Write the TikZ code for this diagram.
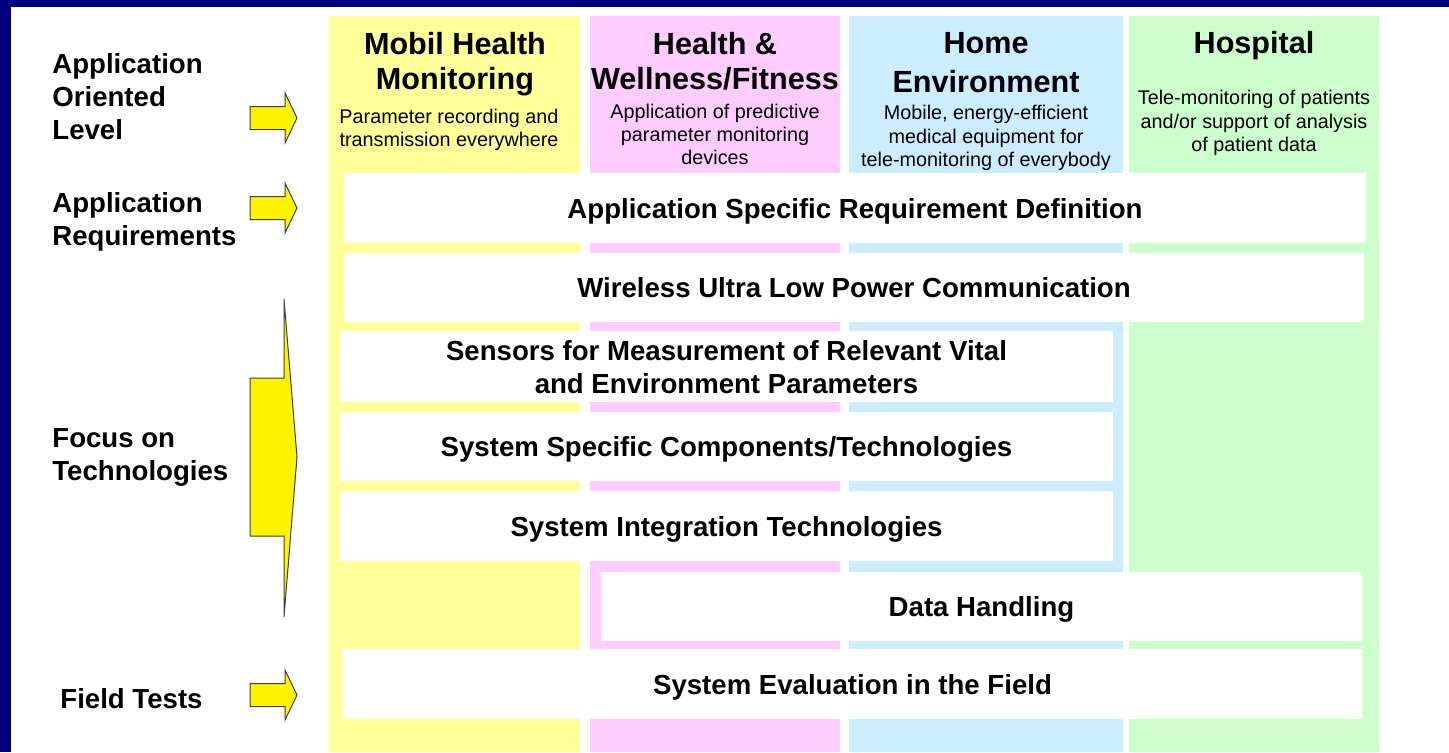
\documentclass[tikz,border=0pt]{standalone}
\usepackage{fontspec}
\setmainfont{Liberation Sans}
\usetikzlibrary{positioning}
\definecolor{navy}{HTML}{000080}
\definecolor{colyellow}{HTML}{FFFF99}
\definecolor{colpink}{HTML}{FFCCFF}
\definecolor{colblue}{HTML}{CCECFF}
\definecolor{colgreen}{HTML}{CCFFCC}
\newcommand{\levelarrow}[1]{%
  \draw[arrowshape] (250,#1-11.5) -- (285,#1-11.5) -- (285,#1-25) -- (297,#1)
    -- (285,#1+25) -- (285,#1+11.5) -- (250,#1+11.5) -- cycle;}

\begin{document}
\begin{tikzpicture}[x=0.5pt, y=-0.5pt,
    lvl/.style = {anchor=west, align=left, inner sep=0pt,
      font=\fontsize{13.8}{16.5}\selectfont\bfseries},
    head/.style = {align=center, inner sep=0pt,
      font=\fontsize{15.3}{17.5}\selectfont\bfseries},
    sub/.style = {align=center, inner sep=0pt,
      font=\fontsize{9.9}{11.6}\selectfont},
    bar/.style = {fill=white, align=center, inner sep=0pt, text depth=0pt,
      font=\fontsize{13.8}{16.5}\selectfont\bfseries},
    arrowshape/.style = {fill=yellow, draw=black!75, line width=0.5pt}]
    \useasboundingbox (0,0) rectangle (1449,752);
    % Frame
    \fill[white] (0,0) rectangle (1449,752);
    \fill[navy] (0,0) rectangle (1449,7);
    \fill[navy] (0,0) rectangle (11,752);

    % Columns
    \fill[colyellow] (329,16) rectangle (580,752);
    \fill[colpink] (590,16) rectangle (840,752);
    \fill[colblue] (849,16) rectangle (1123,752);
    \fill[colgreen] (1129,16) rectangle (1379,752);

    % Column heads
    \node[head] (mobil) at (455,64.5) {Mobil Health\\Monitoring};
    \node[sub] (mobilsub) at (449,130) {Parameter recording and\\transmission everywhere};
    \node[head] (fitness) at (715,61) {Health \&\\Wellness/Fitness};
    \node[sub] (fitnesssub) at (715,134.5) {Application of predictive\\parameter monitoring\\devices};
    \node[head] (home) at (986,63) {Home\\[2pt]Environment};
    \node[sub] (homesub) at (986,138) {Mobile, energy-efficient\\medical equipment for\\tele-monitoring of everybody};
    \node[head] (hospital) at (1254,46) {Hospital};
    \node[sub] (hospitalsub) at (1254,123) {Tele-monitoring of patients\\and/or support of analysis\\of patient data};

    % Levels
    \node[lvl] (oriented) at (52,96.5) {Application\\Oriented\\Level};
    \node[lvl] (requirements) at (52,222) {Application\\Requirements};
    \node[lvl] (focus) at (52,457) {Focus on\\Technologies};
    \node[lvl] (field) at (60,699) {Field Tests};

    \levelarrow{118}
    \levelarrow{208}
    \levelarrow{695}
    \draw[arrowshape] (250,378) -- (284,378) -- (284,299) -- (297,457)
      -- (284,617) -- (284,536) -- (250,536) -- cycle;

    % Bars
    \node[bar, minimum width=511pt, minimum height=35pt] (reqdef) at (855,208)
      {Application Specific Requirement Definition};
    \node[bar, minimum width=510pt, minimum height=34.5pt] (wireless) at (854,287.5)
      {Wireless Ultra Low Power Communication};
    \node[bar, minimum width=386.5pt, minimum height=35.5pt] (sensors) at (726.5,366.5)
      {Sensors for Measurement of Relevant Vital\\and Environment Parameters};
    \node[bar, minimum width=386.5pt, minimum height=34.5pt] (components) at (726.5,446.5)
      {System Specific Components/Technologies};
    \node[bar, minimum width=386.5pt, minimum height=35pt] (integration) at (726.5,526)
      {System Integration Technologies};
    \node[bar, minimum width=380.5pt, minimum height=34.5pt] (data) at (981.5,606.5)
      {Data Handling};
    \node[bar, minimum width=509.5pt, minimum height=35pt] (evaluation) at (852.5,684)
      {System Evaluation in the Field};

\end{tikzpicture}
\end{document}
